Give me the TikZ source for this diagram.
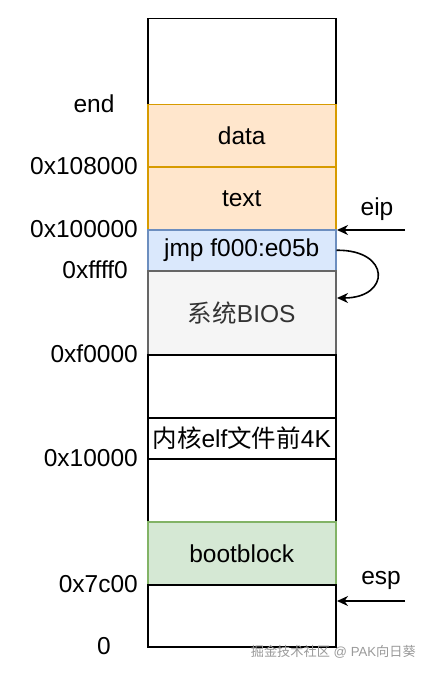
\documentclass[tikz,border=0pt]{standalone}
\usepackage{fontspec}
\setmainfont{Liberation Sans}
\newfontfamily\cjk{Noto Sans CJK SC}
\usetikzlibrary{arrows.meta}
\definecolor{orfill}{HTML}{FFE6CC}
\definecolor{ordraw}{HTML}{D79B00}
\definecolor{blfill}{HTML}{DAE8FC}
\definecolor{bldraw}{HTML}{6C8EBF}
\definecolor{grfill}{HTML}{F5F5F5}
\definecolor{grdraw}{HTML}{666666}
\definecolor{grtext}{HTML}{333333}
\definecolor{gnfill}{HTML}{D5E8D4}
\definecolor{gndraw}{HTML}{82B366}
\definecolor{wmark}{HTML}{9A9A9A}
\begin{document}
\begin{tikzpicture}[x=1pt,y=-1pt,
  memblock/.style={draw=black,line width=1.5pt,fill=white,minimum width=188pt,inner sep=0pt,anchor=north west,
    font=\fontsize{24.5}{28}\selectfont},
  addr/.style={anchor=east,inner sep=0pt,font=\fontsize{24.5}{28}\selectfont},
  ptr/.style={line width=1.6pt,-{Stealth[length=11pt,width=10pt,inset=3.5pt]}},
  lbl/.style={inner sep=0pt,font=\fontsize{24.5}{28}\selectfont}]
\useasboundingbox (0,0) rectangle (432,674);
\node[memblock,minimum height=86pt] (top) at (147,18) {};
\node[memblock,minimum height=62pt,fill=orfill,draw=ordraw] (data) at (147,104) {data};
\node[memblock,minimum height=63pt,fill=orfill,draw=ordraw] (text) at (147,166) {text};
\node[memblock,minimum height=41pt,fill=blfill,draw=bldraw] (jmp) at (147,229) {jmp f000:e05b};
\node[memblock,minimum height=84pt,fill=grfill,draw=grdraw,text=grtext] (bios) at (147,270) {{\cjk 系统}BIOS};
\node[memblock,minimum height=63pt] (free1) at (147,354) {};
\node[memblock,minimum height=41pt] (kernel) at (147,417) {\fontsize{24.5}{28}\selectfont{\cjk 内核}elf{\cjk 文件前}4K};
\node[memblock,minimum height=63pt] (free2) at (147,458) {};
\node[memblock,minimum height=63pt,fill=gnfill,draw=gndraw] (boot) at (147,521) {bootblock};
\node[memblock,minimum height=62pt] (low) at (147,584) {};
% address labels
\node[lbl] (aend) at (94,104) {end};
\node[addr] (a108) at (138,166) {0x108000};
\node[addr] (a100) at (138,229) {0x100000};
\node[addr] (afff) at (128,270) {0xffff0};
\node[addr] (af0) at (138,354) {0xf0000};
\node[addr] (a10) at (138,458) {0x10000};
\node[addr] (a7c) at (138,584) {0x7c00};
\node[lbl] (azero) at (104,646) {0};
% pointers
\coordinate (eipsrc) at (405,230);
\coordinate (eipdst) at (337,230);
\draw[ptr] (eipsrc) -- (eipdst);
\node[lbl] (eip) at (377,209) {eip};
\coordinate (jmpdst) at (337,298);
\draw[ptr] (jmp.east) .. controls (391,249.5) and (391,298) .. (jmpdst);
\coordinate (espsrc) at (405,601);
\coordinate (espdst) at (337,601);
\draw[ptr] (espsrc) -- (espdst);
\node[lbl] (esp) at (381,580) {esp};
% watermark
\node[anchor=east,inner sep=0pt,text=wmark,font=\fontsize{13.2}{15}\selectfont] (wm) at (416,652) {{\cjk 掘金技术社区} @ PAK{\cjk 向日葵}};
\end{tikzpicture}
\end{document}
